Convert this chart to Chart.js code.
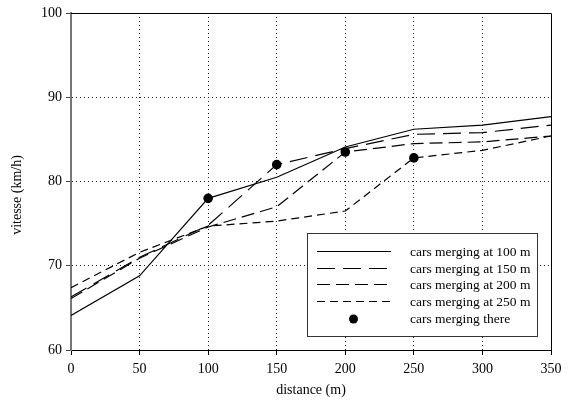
<!DOCTYPE html>
<html>
<head>
<meta charset="utf-8">
<script src="https://cdn.jsdelivr.net/npm/chart.js@4"></script>
<style>
  html, body { margin: 0; padding: 0; background: #fff; }
  canvas { display: block; }
</style>
</head>
<body>
<canvas id="myChart" width="573" height="405"></canvas>
<script>
// distances along the road (m)
const distances = [0, 50, 100, 150, 200, 250, 300, 350];
// speed (km/h) for each merging position
const speed100 = [64.1, 68.8, 78.0, 80.5, 84.1, 86.2, 86.7, 87.7];
const speed150 = [66.3, 71.0, 74.8, 82.0, 83.9, 85.6, 85.8, 86.7];
const speed200 = [66.1, 70.9, 74.6, 77.0, 83.5, 84.5, 84.7, 85.4];
const speed250 = [67.4, 71.6, 74.7, 75.3, 76.5, 82.8, 83.7, 85.4];
// where the cars merge
const mergeX = [100, 150, 200, 250];
const mergeSpeed = [78.0, 82.0, 83.5, 82.8];

const xTicks = [0, 50, 100, 150, 200, 250, 300, 350];
const yTicks = [60, 70, 80, 90, 100];

const labels = [
  'cars merging at 100 m',
  'cars merging at 150 m',
  'cars merging at 200 m',
  'cars merging at 250 m',
  'cars merging there'
];
const xTitle = 'distance (m)';
const yTitle = 'vitesse (km/h)';

const toPoints = (xs, ys) => xs.map((x, i) => ({ x, y: ys[i] }));

function lineSet(label, values, dash) {
  return {
    label,
    data: toPoints(distances, values),
    borderColor: '#000',
    borderWidth: 1.2,
    borderDash: dash,
    pointRadius: 0,
    tension: 0,
    fill: false
  };
}

// dotted grid only inside, the edges are drawn as solid axes / frame
function innerGrid(ticks) {
  return (c) => {
    const v = c.tick ? c.tick.value : null;
    return (v === ticks[0] || v === ticks[ticks.length - 1]) ? 'rgba(0,0,0,0)' : '#222';
  };
}

Chart.defaults.font.family = "'Liberation Serif', 'Times New Roman', serif";
Chart.defaults.color = '#000';

// frame on top/right, y title, and the boxed legend inside the plot
const framePlugin = {
  id: 'frameAndLegend',
  afterDraw(chart) {
    const { ctx, chartArea: a } = chart;
    ctx.save();
    ctx.strokeStyle = '#000';
    ctx.lineWidth = 1;
    ctx.setLineDash([]);
    ctx.beginPath();
    ctx.moveTo(a.left, a.top + 0.5);
    ctx.lineTo(a.right + 0.5, a.top + 0.5);
    ctx.lineTo(a.right + 0.5, a.bottom);
    ctx.stroke();

    // y axis title, a bit below the middle like the original
    ctx.save();
    ctx.translate(17.5, 195);
    ctx.rotate(-Math.PI / 2);
    ctx.font = "14px 'Liberation Serif', serif";
    ctx.fillStyle = '#000';
    ctx.textAlign = 'center';
    ctx.textBaseline = 'middle';
    ctx.fillText(yTitle, 0, 0);
    ctx.restore();

    // legend box
    const bx = 307.5, by = 233.5, bw = 230, bh = 103;
    ctx.fillStyle = '#fff';
    ctx.fillRect(bx, by, bw, bh);
    ctx.strokeStyle = '#333';
    ctx.strokeRect(bx, by, bw, bh);

    const rows = [251.5, 268.5, 284.5, 301.5, 319];
    ctx.font = "13.5px 'Liberation Serif', serif";
    ctx.textBaseline = 'middle';
    ctx.textAlign = 'left';
    chart.data.datasets.forEach((ds, i) => {
      const y = rows[i];
      ctx.strokeStyle = '#000';
      ctx.fillStyle = '#000';
      if (ds.showLine === false) {
        ctx.beginPath();
        ctx.arc(353.5, y, 4.5, 0, Math.PI * 2);
        ctx.fill();
      } else {
        ctx.lineWidth = 1.2;
        ctx.setLineDash(ds.borderDash || []);
        ctx.beginPath();
        ctx.moveTo(317, y);
        ctx.lineTo(391, y);
        ctx.stroke();
        ctx.setLineDash([]);
      }
      ctx.fillText(ds.label, 410, Math.round(y) + 0.5);
    });
    ctx.restore();
  }
};

const ctx = document.getElementById('myChart').getContext('2d');
const chart = new Chart(ctx, {
  type: 'line',
  data: {
    datasets: [
      lineSet(labels[0], speed100, []),
      lineSet(labels[1], speed150, [18, 8]),
      lineSet(labels[2], speed200, [13, 6]),
      lineSet(labels[3], speed250, [8, 5]),
      {
        label: labels[4],
        data: toPoints(mergeX, mergeSpeed),
        showLine: false,
        pointRadius: 4.8,
        pointBackgroundColor: '#000',
        pointBorderColor: '#000',
        pointBorderWidth: 0
      }
    ]
  },
  options: {
    responsive: false,
    animation: false,
    devicePixelRatio: 1,
    layout: { padding: { left: 0, right: 22, top: 13, bottom: 0 } },
    plugins: {
      legend: { display: false },
      tooltip: { enabled: false }
    },
    scales: {
      x: {
        type: 'linear',
        min: 0,
        max: 350,
        afterFit(scale) { scale.height = 55; },
        afterBuildTicks(scale) { scale.ticks = xTicks.map(v => ({ value: v })); },
        ticks: { font: { size: 14 }, padding: 6, maxRotation: 0 },
        grid: {
          color: innerGrid(xTicks),
          lineWidth: 1,
          tickLength: 5,
          tickBorderDash: [],
          tickColor: '#000'
        },
        border: { color: '#000', width: 1, dash: [1, 3] },
        title: {
          display: true,
          text: xTitle,
          font: { size: 14 },
          padding: { top: 6, bottom: 6 }
        }
      },
      y: {
        min: 60,
        max: 100,
        afterFit(scale) { scale.width = 71; },
        afterBuildTicks(scale) { scale.ticks = yTicks.map(v => ({ value: v })); },
        ticks: { font: { size: 14 }, padding: 4 },
        grid: {
          color: innerGrid(yTicks),
          lineWidth: 1,
          tickLength: 5,
          tickBorderDash: [],
          tickColor: '#444'
        },
        border: { color: '#777', width: 2, dash: [1, 3] },
        title: { display: false }
      }
    }
  },
  plugins: [framePlugin]
});
</script>
</body>
</html>
